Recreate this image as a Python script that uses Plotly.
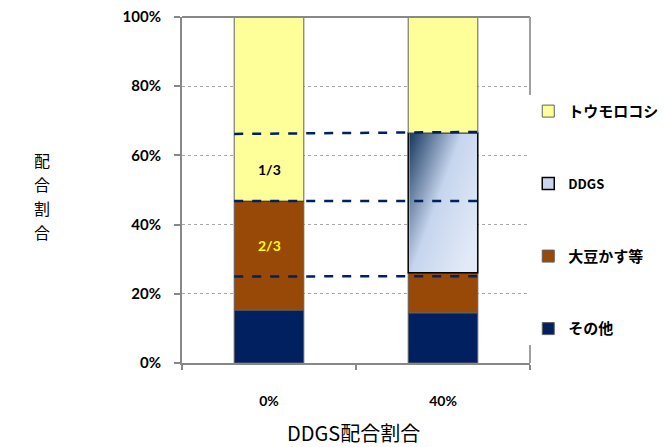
import base64
import plotly.graph_objects as go

# Categories (DDGS inclusion rate) and the composition of each ration (%)
categories = ["0%", "40%"]
other = [15.3, 14.5]          # その他
soybean = [31.5, 11.6]        # 大豆かす等
ddgs = [0.0, 40.4]            # DDGS
corn = [53.2, 33.5]           # トウモロコシ

# Reference levels for the dashed guide lines (left end, right end), %
guide_left = [66.2, 46.8, 25.0]
guide_right = [66.8, 46.8, 25.1]

# Fractions written inside the 0% bar: (text, y in %, colour)
inner_labels = [("1/3", 55.8, "#000000"), ("2/3", 34.1, "#FFFF00")]

y_title = "配合割合"
x_title = "DDGS配合割合"

x = [0, 1]
bar_w = 0.4
font_lat = "Lato, 'Noto Sans CJK JP', sans-serif"
font_jp = "'Noto Sans CJK JP', 'Noto Sans', sans-serif"

fig = go.Figure()

def add_bar(name, vals, color, line_color, line_w, base, rank):
    fig.add_trace(go.Bar(
        x=x, y=vals, base=base, name=name, width=bar_w,
        marker=dict(color=color, line=dict(color=line_color, width=line_w)),
        legendgroup=name, legendrank=rank,
    ))

base_soy = other
base_ddgs = [o + s for o, s in zip(other, soybean)]
base_corn = [b + d for b, d in zip(base_ddgs, ddgs)]

add_bar("<b>その他</b>", other, "#002060", "#606060", 1, [0, 0], 4)
add_bar("<b>大豆かす等</b>", soybean, "#984807", "#606060", 1, base_soy, 3)
add_bar("<b><span style='font-size:13px'>DDGS</span></b>", ddgs, "#C9D7EE", "#000000", 1.5, base_ddgs, 2)
add_bar("<b>トウモロコシ</b>", corn, "#FFFF99", "#606060", 1, base_corn, 1)

# Diagonal gradient fill for the DDGS segment
svg = (
    "<svg xmlns='http://www.w3.org/2000/svg' width='100' height='100' preserveAspectRatio='none'>"
    "<defs><linearGradient id='g' x1='0' y1='0' x2='1' y2='0.75'>"
    "<stop offset='0' stop-color='#17375E'/>"
    "<stop offset='0.5' stop-color='#C6D5EE'/>"
    "<stop offset='1' stop-color='#E2EAF6'/>"
    "</linearGradient></defs>"
    "<rect width='100' height='100' fill='url(#g)'/></svg>"
)
svg_uri = "data:image/svg+xml;base64," + base64.b64encode(svg.encode()).decode()
for xi, b, d in zip(x, base_ddgs, ddgs):
    if d > 0:
        fig.add_layout_image(
            source=svg_uri, xref="x", yref="y",
            x=xi - bar_w / 2 + 0.006, y=b + d - 0.2,
            sizex=bar_w - 0.012, sizey=d - 0.4,
            xanchor="left", yanchor="top", sizing="stretch", layer="above",
        )

# Dashed guide lines across both bars
for yl, yr in zip(guide_left, guide_right):
    fig.add_shape(type="line", xref="x", yref="y",
                  x0=-bar_w / 2, x1=1 + bar_w / 2 + 0.02, y0=yl, y1=yr,
                  line=dict(color="#002060", width=2.5, dash="dash"), layer="above")

for txt, yv, col in inner_labels:
    fig.add_annotation(x=0, y=yv, xref="x", yref="y", text=f"<b>{txt}</b>",
                       showarrow=False, font=dict(family=font_lat, size=14, color=col))

# Vertical y-axis title, one character per row
for i, ch in enumerate(y_title):
    fig.add_annotation(xref="paper", yref="paper", x=-0.431, y=0.587 - i * 0.0694,
                       text=ch, showarrow=False, yanchor="middle",
                       font=dict(family=font_jp, size=16, color="#000000"))
fig.add_annotation(xref="paper", yref="paper", x=0.494, y=-0.2,
                   text=x_title, showarrow=False, yanchor="middle",
                   font=dict(family=font_jp, size=20, color="#000000"))

fig.update_layout(
    width=666, height=447,
    margin=dict(l=182, r=136, t=17, b=84, autoexpand=False),
    paper_bgcolor="white", plot_bgcolor="white",
    barmode="overlay",
    showlegend=True,
    legend=dict(x=0.995, y=0.775, xanchor="left", yanchor="top",
                traceorder="grouped", tracegroupgap=50,
                font=dict(family=font_jp, size=15, color="#000000"),
                itemwidth=30),
    xaxis=dict(range=[-0.5, 1.5], tickvals=x, ticktext=[f"<b>{c}</b>" for c in categories],
               ticks="", showgrid=False, showline=True, linecolor="#888888", linewidth=2,
               mirror=False, zeroline=False, ticklabelstandoff=24,
               tickfont=dict(family=font_lat, size=14, color="#000000"),
               minor=dict(tickmode="linear", tick0=-0.5, dtick=1, ticks="outside",
                          ticklen=5, tickcolor="#888888", tickwidth=1.5, showgrid=False)),
    yaxis=dict(range=[0, 100], tickvals=[0, 20, 40, 60, 80, 100],
               ticktext=[f"<b>{v}%</b>" for v in [0, 20, 40, 60, 80, 100]],
               ticks="outside", ticklen=6, tickcolor="#888888", tickwidth=1.5,
               showline=True, linecolor="#888888", linewidth=2, zeroline=False,
               showgrid=True, gridcolor="#A8A8A8", griddash="dot", gridwidth=1,
               ticklabelstandoff=10,
               tickfont=dict(family=font_lat, size=15, color="#000000")),
)

# Top and right frame lines of the plot area
fig.add_shape(type="line", xref="paper", yref="paper", x0=0, x1=1, y0=1, y1=1,
              line=dict(color="#888888", width=2))
fig.add_shape(type="line", xref="paper", yref="paper", x0=1, x1=1, y0=0, y1=1,
              line=dict(color="#A0A0A0", width=2))

fig.write_html("out.html")
